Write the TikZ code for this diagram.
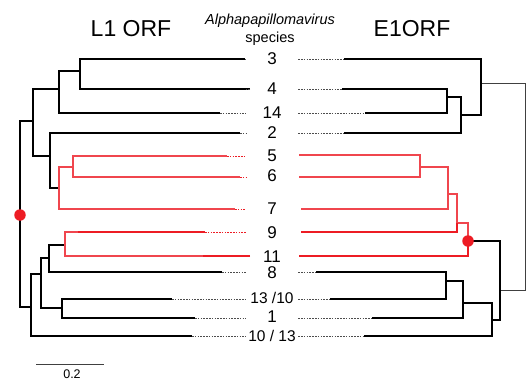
\documentclass[tikz,border=0pt]{standalone}
\usepackage{fontspec}
\setmainfont{Liberation Sans}
\definecolor{cladered}{RGB}{237,28,36}
\definecolor{cladepink}{RGB}{240,70,78}
\begin{document}
\begin{tikzpicture}[x=1pt,y=-1pt,
  branch/.style={line width=1.6pt, black, line join=miter},
  redbranch/.style={line width=1.3pt, cladepink, line join=miter},
  thickred/.style={line width=2.2pt, cladered},
  leader/.style={line width=0.55pt, black!70, dash pattern=on 1.6pt off 1.2pt},
  redleader/.style={line width=0.55pt, cladered, dash pattern=on 1.6pt off 1.2pt},
  taxon/.style={font=\fontsize{17}{17}\selectfont, inner sep=0pt, minimum width=52pt, anchor=center},
  smalltaxon/.style={taxon, font=\fontsize{15.5}{15.5}\selectfont},
  nodedot/.style={circle, fill=cladered, inner sep=0pt, minimum size=11.5pt}
]
\useasboundingbox (0,0) rectangle (526,380);

% headings
\node[font=\fontsize{23}{23}\selectfont] (ttlL) at (131,29) {L1 ORF};
\node[font=\fontsize{23}{23}\selectfont] (ttlR) at (412,29) {E1ORF};
\node[font=\fontsize{14.5}{14.5}\selectfont\itshape] (genus) at (270,21) {Alphapapillomavirus};
\node[font=\fontsize{14.5}{14.5}\selectfont] (spc) at (270,39) {species};

% species labels in the middle
\node[taxon] (m3) at (272,59) {3};
\node[taxon] (m4) at (272,89) {4};
\node[taxon] (m14) at (272,113) {14};
\node[taxon] (m2) at (272,133) {2};
\node[taxon] (m5) at (272,156) {5};
\node[taxon] (m6) at (272,176) {6};
\node[taxon] (m7) at (272,209) {7};
\node[taxon] (m9) at (272,233) {9};
\node[taxon] (m11) at (272,257) {11};
\node[taxon] (m8) at (272,273) {8};
\node[smalltaxon] (m1310) at (272,298) {13 /10};
\node[taxon] (m1) at (272,317) {1};
\node[smalltaxon] (m1013) at (272,336) {10 / 13};

% ---------- L1 tree (left) ----------
\coordinate (Lroot) at (20,214);
\coordinate (LA) at (33,121);
\coordinate (LC) at (59,89);
\coordinate (LE) at (80,71);
\coordinate (LD) at (50,156);
\coordinate (LF) at (59,188);
\coordinate (LG) at (73,167);
\coordinate (LB) at (31,307);
\coordinate (LH) at (41,274);
\coordinate (LI) at (49,258);
\coordinate (LK) at (65,245);
\coordinate (LJ) at (62,308);
\coordinate (l3) at (245,59);
\coordinate (l4) at (250,89);
\coordinate (l14) at (220,113);
\coordinate (l2) at (240,133);
\coordinate (l5) at (227,156);
\coordinate (l6) at (240,177);
\coordinate (l7) at (235,209);
\coordinate (l9) at (205,232);
\coordinate (l11) at (250,256);
\coordinate (l8) at (222,272);
\coordinate (l1310) at (172,299);
\coordinate (l1) at (195,318);
\coordinate (l1013) at (192,336);

\draw[branch] (Lroot) |- (LA);
\draw[branch] (Lroot) |- (LB);
\draw[branch] (LA) |- (LC);
\draw[branch] (LA) |- (LD);
\draw[branch] (LC) |- (LE);
\draw[branch] (LC) |- (l14);
\draw[branch] (LE) |- (l3);
\draw[branch] (LE) |- (l4);
\draw[branch] (LD) |- (l2);
\draw[branch] (LD) |- (LF);
\draw[redbranch] (LF) |- (LG);
\draw[redbranch] (LF) |- (l7);
\draw[redbranch] (LG) |- (l5);
\draw[redbranch] (LG) |- (l6);
\draw[branch] (LB) |- (LH);
\draw[branch] (LB) |- (l1013);
\draw[branch] (LH) |- (LI);
\draw[branch] (LH) |- (LJ);
\draw[branch] (LI) |- (LK);
\draw[branch] (LI) |- (l8);
\draw[redbranch] (LK) |- (l9);
\draw[redbranch] (LK) |- (l11);
\draw[thickred] (l9) -- ++(-127,0);
\draw[thickred] (l11) -- ++(-47,0);
\draw[branch] (LJ) |- (l1310);
\draw[branch] (LJ) |- (l1);
\node[nodedot] (dotL) at (20,215) {};

% leaders from left tips to the labels
\foreach \t in {3,4,14,2,8,1310,1,1013}
  \draw[leader] (l\t) -- (l\t -| m\t.west);
\foreach \t in {5,6,7,9}
  \draw[redleader] (l\t) -- (l\t -| m\t.west);

% ---------- E1 tree (right) ----------
\coordinate (Rroot) at (525,187);
\coordinate (RP) at (481,83);
\coordinate (RS) at (461,115);
\coordinate (RT) at (447,97);
\coordinate (RQ) at (500,290);
\coordinate (RU) at (468,241);
\coordinate (RY) at (457,223);
\coordinate (RZ) at (448,194);
\coordinate (RAA) at (420,167);
\coordinate (RV) at (492,320);
\coordinate (RW) at (463,303);
\coordinate (RX) at (446,281);
\coordinate (r3) at (344,59);
\coordinate (r4) at (342,89);
\coordinate (r14) at (365,113);
\coordinate (r2) at (344,133);
\coordinate (r5) at (299,155);
\coordinate (r6) at (299,177);
\coordinate (r7) at (301,209);
\coordinate (r9) at (301,232);
\coordinate (r11) at (299,256);
\coordinate (r8) at (316,272);
\coordinate (r1310) at (330,299);
\coordinate (r1) at (372,318);
\coordinate (r1013) at (364,336);

\draw[line width=1pt, black!75] (Rroot) |- (RP);
\draw[line width=1pt, black!75] (Rroot) |- (RQ);
\draw[branch] (RP) |- (r3);
\draw[branch] (RP) |- (RS);
\draw[branch] (RS) |- (RT);
\draw[branch] (RS) |- (r2);
\draw[branch] (RT) |- (r4);
\draw[branch] (RT) |- (r14);
\draw[branch] (RQ) |- (RU);
\draw[branch] (RQ) |- (RV);
\draw[redbranch] (RU) |- (RY);
\draw[thickred] (RU) |- (r11);
\draw[redbranch] (RY) |- (RZ);
\draw[thickred] (RY) |- (r9);
\draw[redbranch] (RZ) |- (RAA);
\draw[redbranch] (RZ) |- (r7);
\draw[redbranch] (RAA) |- (r5);
\draw[redbranch] (RAA) |- (r6);
\draw[branch] (RV) |- (RW);
\draw[branch] (RV) |- (r1013);
\draw[branch] (RW) |- (RX);
\draw[branch] (RW) |- (r1);
\draw[branch] (RX) |- (r8);
\draw[branch] (RX) |- (r1310);
\node[nodedot] (dotR) at (RU) {};

% leaders from the labels to right tips
\foreach \t in {3,4,14,2,8,1310,1,1013}
  \draw[leader] (m\t.east |- r\t) -- (r\t);

% scale bar
\coordinate (sb0) at (36,364);
\coordinate (sb1) at (104,364);
\draw[line width=0.8pt, black!75] (sb0) -- (sb1);
\node[font=\fontsize{12.5}{12.5}\selectfont] (sblab) at (72,374) {0.2};
\end{tikzpicture}
\end{document}
